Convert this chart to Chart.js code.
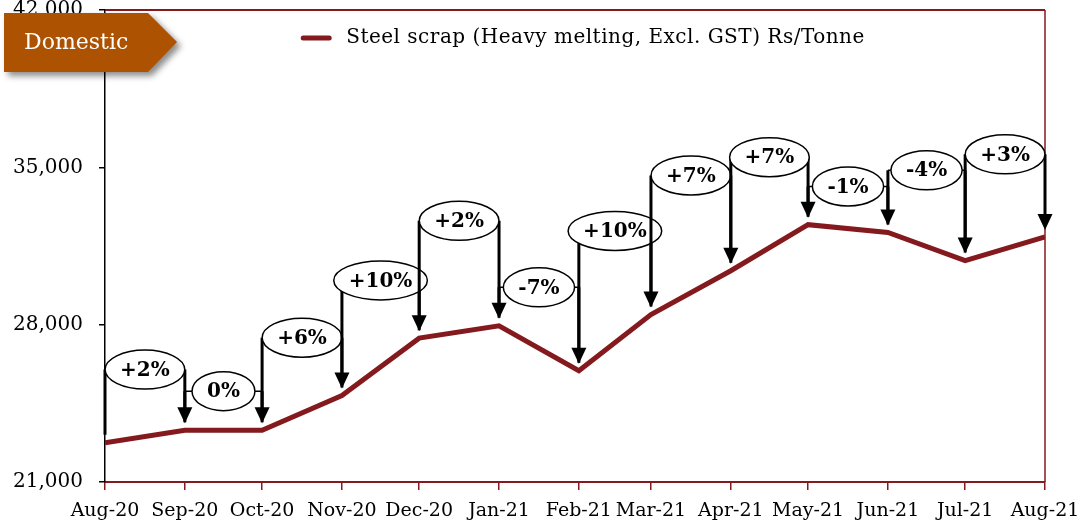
<!DOCTYPE html>
<html lang="en">
<head>
<meta charset="UTF-8">
<title>Steel scrap - Domestic</title>
<script src="https://cdn.jsdelivr.net/npm/chart.js"></script>
<style>
  html, body { margin: 0; padding: 0; background: #fff; }
  #wrap { width: 1083px; height: 529px; }
</style>
</head>
<body>
<div id="wrap"><canvas id="myChart"></canvas></div>
<script>
// monthly price, Rs/Tonne
const months = ['Aug-20', 'Sep-20', 'Oct-20', 'Nov-20', 'Dec-20', 'Jan-21', 'Feb-21',
                'Mar-21', 'Apr-21', 'May-21', 'Jun-21', 'Jul-21', 'Aug-21'];
const scrapPrice = [22750, 23300, 23300, 24850, 27400, 27950, 25950,
                    28450, 30400, 32450, 32100, 30850, 31900];
// month-on-month change labels and the height their bubble sits at
const changeLabels = ['+2%', '0%', '+6%', '+10%', '+2%', '-7%', '+10%', '+7%', '+7%', '-1%', '-4%', '+3%'];
const labelLevel = [26000, 25040, 27420, 29970, 32620, 29660, 32170, 34640, 35450, 34150, 34870, 35580];
const yTicks = [21000, 28000, 35000, 42000];

const monNames = ['Jan', 'Feb', 'Mar', 'Apr', 'May', 'Jun', 'Jul', 'Aug', 'Sep', 'Oct', 'Nov', 'Dec'];
function dayOf(label) {
    const [m, yy] = label.split('-');
    return Date.UTC(2000 + Number(yy), monNames.indexOf(m), 1) / 86400000;
}
const day0 = dayOf(months[0]);
const xDays = months.map(m => dayOf(m) - day0);

const RED = '#841A1E';
const SERIF = '"DejaVu Serif", Georgia, serif';

// top + right edge of the plot box, and the legend inside it
const framePlugin = {
    id: 'frame',
    beforeDatasetsDraw(chart) {
        const { ctx, chartArea: a } = chart;
        ctx.save();
        ctx.strokeStyle = RED;
        ctx.lineWidth = 2;
        ctx.beginPath();
        ctx.moveTo(a.left, a.top);
        ctx.lineTo(a.right, a.top);
        ctx.stroke();
        ctx.lineWidth = 1.5;
        ctx.beginPath();
        ctx.moveTo(a.right, a.top);
        ctx.lineTo(a.right, a.bottom);
        ctx.stroke();

        // legend
        const ds = chart.data.datasets[0];
        ctx.font = '20px ' + SERIF;
        ctx.letterSpacing = '0.5px';
        const tw = ctx.measureText(ds.label).width;
        const total = 30 + 15 + tw;
        const lx = (a.left + a.right) / 2 + 8 - total / 2;
        const ly = a.top + 28;
        ctx.strokeStyle = ds.borderColor;
        ctx.lineWidth = 5;
        ctx.lineCap = 'round';
        ctx.beginPath();
        ctx.moveTo(lx + 2, ly);
        ctx.lineTo(lx + 28, ly);
        ctx.stroke();
        ctx.fillStyle = '#000';
        ctx.textBaseline = 'middle';
        ctx.fillText(ds.label, lx + 45, ly);
        ctx.restore();
    }
};

// bracket + arrow + bubble for every month-on-month change
const bracketPlugin = {
    id: 'brackets',
    afterDatasetsDraw(chart) {
        const { ctx, scales: { x, y } } = chart;
        ctx.save();
        ctx.font = 'bold 20px ' + SERIF;
        changeLabels.forEach((txt, i) => {
            const x0 = x.getPixelForValue(xDays[i]);
            const x1 = x.getPixelForValue(xDays[i + 1]);
            const yl = y.getPixelForValue(labelLevel[i]);
            const y0 = y.getPixelForValue(scrapPrice[i]) - 8;
            const y1 = y.getPixelForValue(scrapPrice[i + 1]) - 7;

            ctx.strokeStyle = '#000';
            ctx.lineWidth = 1.5;
            ctx.beginPath();
            ctx.moveTo(x0, yl);
            ctx.lineTo(x1, yl);
            ctx.stroke();

            ctx.lineWidth = 3;
            ctx.beginPath();
            ctx.moveTo(x0, y0);
            ctx.lineTo(x0, yl);
            ctx.moveTo(x1, yl);
            ctx.lineTo(x1, y1 - 12);
            ctx.stroke();

            ctx.fillStyle = '#000';
            ctx.beginPath();
            ctx.moveTo(x1, y1);
            ctx.lineTo(x1 - 7.5, y1 - 16);
            ctx.lineTo(x1 + 7.5, y1 - 16);
            ctx.closePath();
            ctx.fill();

            const cx = (x0 + x1) / 2;
            const w = ctx.measureText(txt).width;
            ctx.beginPath();
            ctx.ellipse(cx, yl, w / 2 + 15, 19.5, 0, 0, Math.PI * 2);
            ctx.fillStyle = '#fff';
            ctx.fill();
            ctx.lineWidth = 1.5;
            ctx.stroke();

            ctx.fillStyle = '#000';
            ctx.textAlign = 'center';
            ctx.textBaseline = 'middle';
            ctx.fillText(txt, cx, yl + 1);
        });
        ctx.restore();
    }
};

// "Domestic" arrow tag top-left
const tagPlugin = {
    id: 'tag',
    afterDraw(chart) {
        const { ctx } = chart;
        ctx.save();
        ctx.shadowColor = 'rgba(0,0,0,0.45)';
        ctx.shadowBlur = 6;
        ctx.shadowOffsetX = 4;
        ctx.shadowOffsetY = 4;
        ctx.fillStyle = '#AD5200';
        ctx.beginPath();
        ctx.moveTo(4, 13);
        ctx.lineTo(148, 13);
        ctx.lineTo(177, 42);
        ctx.lineTo(148, 72);
        ctx.lineTo(4, 72);
        ctx.closePath();
        ctx.fill();
        ctx.shadowColor = 'transparent';
        ctx.fillStyle = '#fff';
        ctx.font = '22px ' + SERIF;
        ctx.textBaseline = 'middle';
        ctx.fillText('Domestic', 24, 43);
        ctx.restore();
    }
};

// drop the extra room Chart.js keeps for tick label overhang
function noOverhang(s) {
    s.paddingTop = 0;
    s.paddingBottom = 0;
    s.paddingLeft = 0;
    s.paddingRight = 0;
}

const ctx = document.getElementById('myChart').getContext('2d');
new Chart(ctx, {
    type: 'line',
    data: {
        datasets: [{
            label: 'Steel scrap (Heavy melting, Excl. GST) Rs/Tonne',
            data: xDays.map((d, i) => ({ x: d, y: scrapPrice[i] })),
            borderColor: RED,
            backgroundColor: RED,
            borderWidth: 5,
            pointRadius: 0,
            tension: 0,
            fill: false
        }]
    },
    options: {
        responsive: true,
        maintainAspectRatio: false,
        animation: false,
        layout: { padding: { left: 0, right: 38, top: 10, bottom: 0 } },
        plugins: {
            legend: { display: false },
            tooltip: { enabled: false }
        },
        scales: {
            x: {
                type: 'linear',
                min: 0,
                max: xDays[xDays.length - 1],
                afterBuildTicks: s => { s.ticks = xDays.map(v => ({ value: v })); },
                afterFit: s => { s.height = 47; noOverhang(s); },
                grid: { drawOnChartArea: false, tickLength: 8, color: RED, lineWidth: 1.5 },
                border: { color: RED, width: 2 },
                ticks: {
                    autoSkip: false,
                    maxRotation: 0,
                    padding: 10,
                    color: '#000',
                    font: { family: SERIF, size: 19 },
                    callback: v => months[xDays.indexOf(v)]
                }
            },
            y: {
                min: yTicks[0],
                max: yTicks[yTicks.length - 1],
                afterBuildTicks: s => { s.ticks = yTicks.map(v => ({ value: v })); },
                afterFit: s => { s.width = 105; noOverhang(s); },
                grid: { drawOnChartArea: false, tickLength: 6, color: '#000', lineWidth: 1.5 },
                border: { color: '#000', width: 1.5 },
                ticks: {
                    padding: 16,
                    color: '#000',
                    font: { family: SERIF, size: 20 },
                    callback: v => v.toLocaleString('en-US')
                }
            }
        }
    },
    plugins: [framePlugin, bracketPlugin, tagPlugin]
});
</script>
</body>
</html>
